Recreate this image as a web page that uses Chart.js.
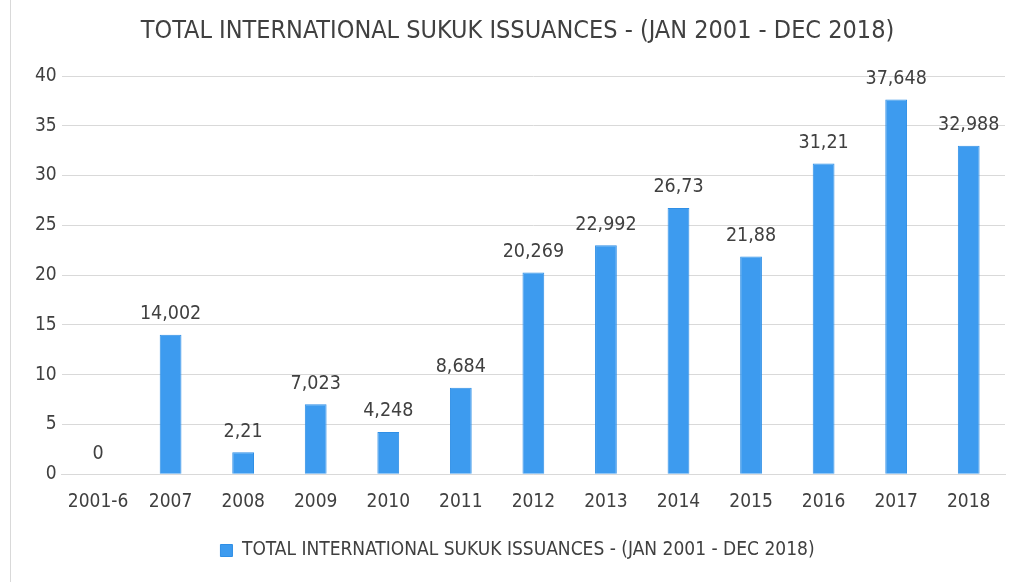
<!DOCTYPE html>
<html>
<head>
<meta charset="utf-8">
<script src="https://cdn.jsdelivr.net/npm/chart.js@4/dist/chart.umd.min.js"></script>
<style>
  html,body{margin:0;padding:0;background:#fff;}
  #wrap{position:relative;width:1024px;height:582px;}
  #edge{position:absolute;left:10px;top:0;width:1px;height:582px;background:#d9d9d9;}
</style>
</head>
<body>
<div id="wrap">
  <div id="edge"></div>
  <canvas id="chart" width="1024" height="582"></canvas>
</div>
<script>
const years=["2001-6","2007","2008","2009","2010","2011","2012","2013","2014","2015","2016","2017","2018"];
const issuances=[0,14.002,2.21,7.023,4.248,8.684,20.269,22.992,26.73,21.88,31.21,37.648,32.988];
const seriesName="TOTAL INTERNATIONAL SUKUK ISSUANCES - (JAN 2001 - DEC 2018)";
const textFont="'Liberation Sans Narrow', 'DejaVu Sans Condensed', sans-serif";

// value labels above each bar, comma as decimal mark
const barLabels={
  id:"barLabels",
  afterDatasetsDraw(chart){
    const ctx=chart.ctx;
    const meta=chart.getDatasetMeta(0);
    ctx.save();
    ctx.font="19.5px "+textFont;
    ctx.fillStyle="#404040";
    ctx.textAlign="center";
    ctx.textBaseline="bottom";
    meta.data.forEach((bar,i)=>{
      let txt=String(issuances[i]).replace(".",",");
      ctx.fillText(txt,bar.x,bar.y-11);
    });
    ctx.restore();
  }
};

const ctx=document.getElementById("chart");
new Chart(ctx,{
  type:"bar",
  data:{
    labels:years,
    datasets:[{
      label:seriesName,
      data:issuances,
      backgroundColor:"#3d9bef",
      borderColor:"#2f8fe6",
      borderWidth:1,
      categoryPercentage:1,
      barPercentage:0.3
    }]
  },
  options:{
    responsive:false,
    animation:false,
    layout:{padding:{left:30,right:19,top:10,bottom:12}},
    plugins:{
      title:{
        display:true,
        text:seriesName,
        color:"#404040",
        font:{family:textFont,size:25,weight:"normal"},
        padding:{top:6,bottom:30}
      },
      legend:{
        position:"bottom",
        labels:{
          color:"#404040",
          font:{family:textFont,size:19},
          boxWidth:12,
          boxHeight:12,
          padding:20
        }
      },
      tooltip:{enabled:false}
    },
    scales:{
      x:{
        grid:{display:false},
        border:{color:"#d9d9d9"},
        ticks:{color:"#404040",font:{family:textFont,size:19},padding:8}
      },
      y:{
        min:0,max:40,
        ticks:{stepSize:5,color:"#404040",font:{family:textFont,size:19},padding:5},
        grid:{color:"#d9d9d9",drawTicks:false},
        border:{display:false}
      }
    }
  },
  plugins:[barLabels]
});
</script>
</body>
</html>
